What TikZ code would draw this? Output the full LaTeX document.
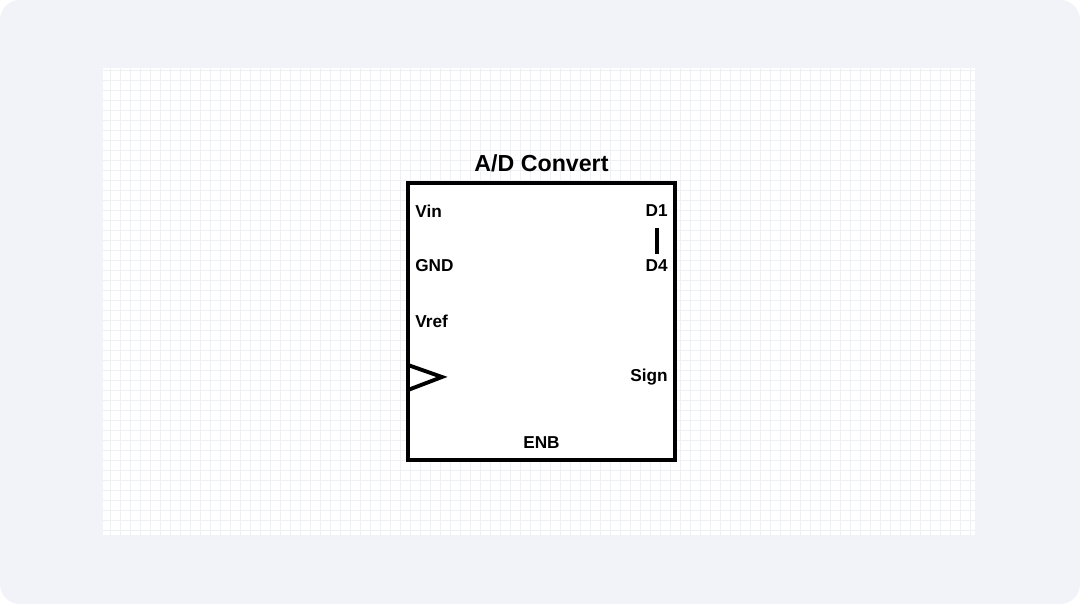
\documentclass[tikz,border=0pt]{standalone}
\usepackage{fontspec}
\setmainfont{Liberation Sans}
\usetikzlibrary{positioning}
\definecolor{pagebg}{HTML}{F2F3F8}
\definecolor{gridline}{HTML}{EEF0F4}
\tikzset{
  pin/.style={font=\bfseries\fontsize{9.8}{12}\selectfont, inner sep=0pt},
  chip/.style={line width=2.2pt, draw=black, fill=white}
}
\begin{document}
\begin{tikzpicture}[x=0.02cm, y=-0.02cm]

\fill[white] (0,0) rectangle (1080,604);
\fill[pagebg, rounded corners=0.4cm] (0,0) rectangle (1080,604);
\fill[white] (103,68) rectangle (975,535);
\draw[gridline, line width=0.3pt, step=0.2cm] (103,68) grid (975,535);

%\draw[step=0.5, gray!20, very thin] (-2,-2) grid (4,4);

\draw[chip] (408,183) rectangle (675,460);
\node [font=\bfseries\fontsize{13.2}{16}\selectfont, anchor=south] (title) at (541.5,178) {A/D Convert};

\node [pin, anchor=west] (vin)  at (415,211) {Vin};
\node [pin, anchor=west] (gnd)  at (415,266) {GND};
\node [pin, anchor=west] (vref) at (415,321) {Vref};
\node [pin, anchor=east] (d1)   at (668,211) {D1};
\node [pin, anchor=east] (d4)   at (668,266) {D4};
\node [pin, anchor=east] (sign) at (668,377) {Sign};
\node [pin] (enb) at (541.5,443) {ENB};

\draw[line width=2.2pt] (657,228) -- (657,254);
\draw[line width=2.2pt, line join=miter] (408,365) -- (442,377) -- (408,390);

\end{tikzpicture}
\end{document}
